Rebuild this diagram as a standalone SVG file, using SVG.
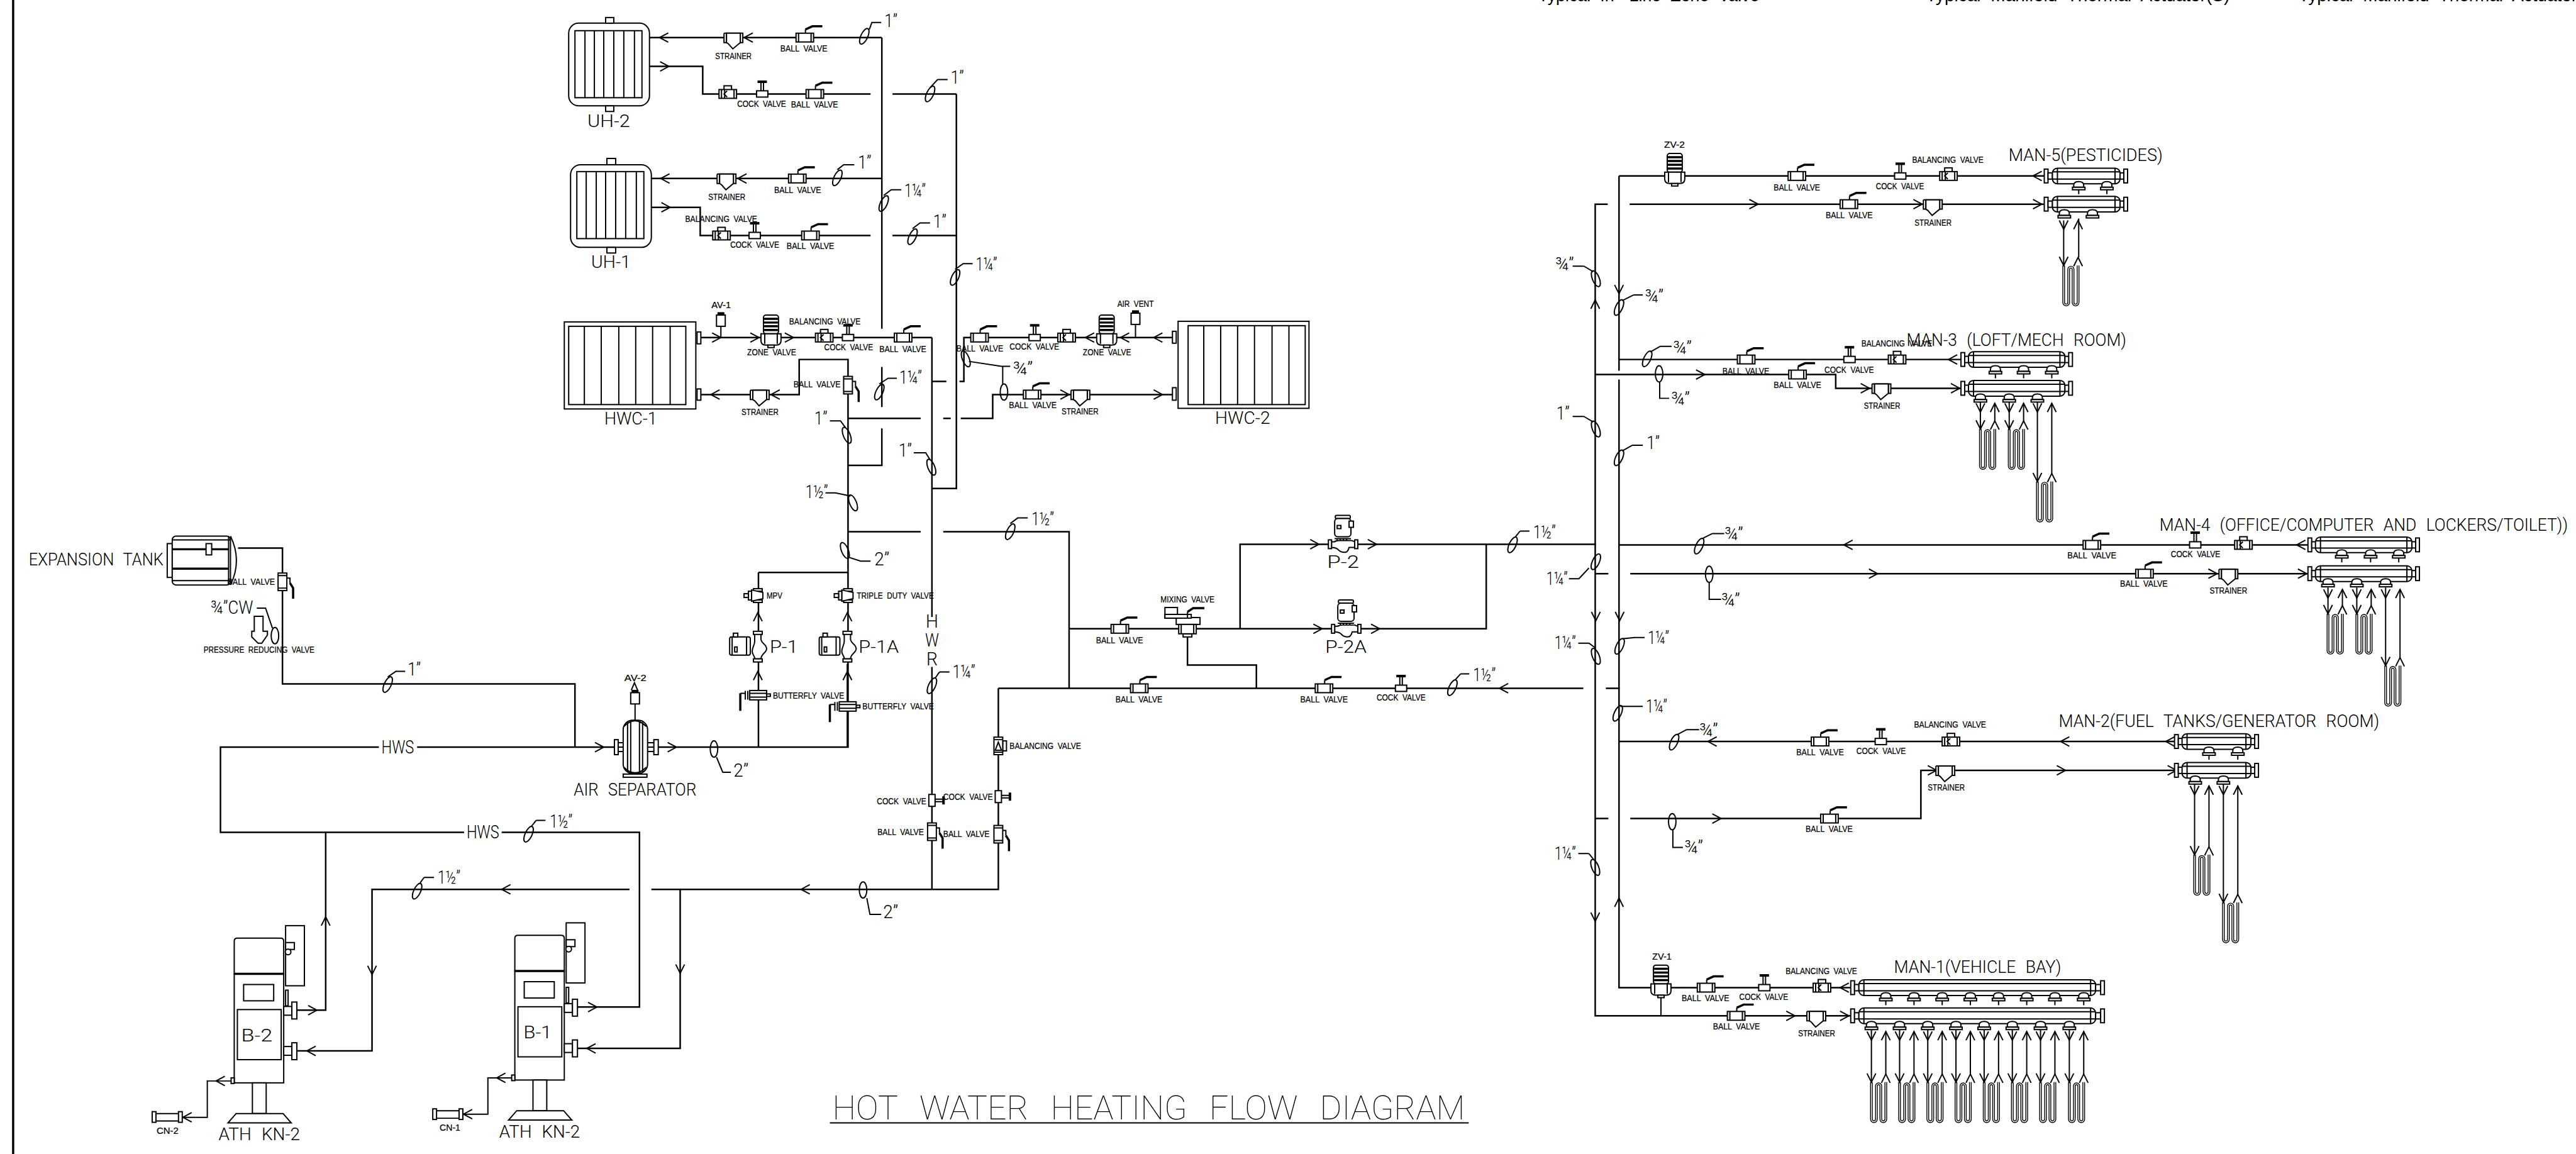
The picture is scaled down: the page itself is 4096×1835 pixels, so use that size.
<svg xmlns="http://www.w3.org/2000/svg" width="4096" height="1835" viewBox="0 0 4096 1835">
<style>
text{fill:#000;stroke:none;font-family:"Liberation Sans",Arial,sans-serif}
.a{font-size:15px;word-spacing:4px;stroke:#000;stroke-width:.25}
.b{font-size:27px;font-family:Roboto,"Liberation Sans",sans-serif;font-weight:300;word-spacing:9px}
.c{font-size:53px;font-family:Roboto,"Liberation Sans",sans-serif;font-weight:100;word-spacing:22px}
.d{font-size:28px;word-spacing:8px}
#pipe-sizes text{font-size:30px}
.p{fill:none;stroke:#000;stroke-width:2.5}
.l{fill:none;stroke:#000;stroke-width:2}
.s{fill:#fff;stroke:#000;stroke-width:2}
.n{fill:none;stroke:#000;stroke-width:2}
.h{fill:none;stroke:#000;stroke-width:3.5}
.k{fill:#000;stroke:#000;stroke-width:1}
.w{fill:none;stroke:#fff;stroke-width:1.4}
.q{fill:none;stroke:#000;stroke-width:4.2}
</style>
<defs>
<path id="arR" class="n" d="M-14-7.5L0 0L-14 7.5"/>
<path id="arL" class="n" d="M14-7.5L0 0L14 7.5"/>
<path id="arU" class="n" d="M-7 14L0 0L7 14"/>
<path id="arD" class="n" d="M-7-14L0 0L7-14"/>
<ellipse id="e0" class="n" rx="6" ry="13"/>
<ellipse id="e1" class="n" rx="5.5" ry="13.5" transform="rotate(25)"/>
<ellipse id="e2" class="n" rx="5.5" ry="13.5" transform="rotate(-22)"/>
<g id="bv"><rect class="s" x="-14" y="-7" width="28" height="14"/><path class="n" d="M-10-7V7M10-7V7M1-7V-13"/><path class="h" d="M1-13L12-18H28"/></g>
<g id="cv"><rect class="s" x="-9" y="-5" width="18" height="10"/><path class="n" d="M-2-5V-18M2-5V-18"/><rect class="k" x="-7" y="-21" width="14" height="3"/></g>
<g id="sb"><rect class="s" x="-6" y="-13" width="12" height="7"/><rect class="s" x="-14" y="-7" width="28" height="14"/><path class="n" d="M-10-7V7M-5-7V7M-1-5L-6 0L-1 5M10-7V7"/></g>
<g id="st"><path class="s" d="M-15-7H15V8H11V-7M-15-7V8H-11V-7"/><path class="s" d="M-11-7V8L-8 10L-1 18L11 8V-7Z"/></g>
<g id="zv"><rect class="s" x="-12" y="-36" width="24" height="30" rx="4"/><path class="h" d="M-11-30H11M-11-24H11M-11-18H11M-11-12H11"/><path class="s" d="M-16-6H16V5Q16 12 8 12H-8Q-16 12-16 5Z"/><path class="n" d="M-10-6V10M10-6V10"/><rect class="s" x="-5" y="12" width="10" height="4"/></g>
<g id="av"><rect class="s" x="-7" y="-18" width="14" height="18"/><rect class="k" x="-5" y="-22" width="10" height="4"/></g>
<g id="vb"><rect class="s" x="-7" y="-14" width="14" height="28"/><path class="n" d="M-7-10H7M-7 10H7M7-6H12V2"/><path class="h" d="M12 2L17 10V27"/></g>
<g id="vc"><rect class="s" x="-5" y="-9.5" width="10" height="19"/><path class="n" d="M5-2H17M5 2H17"/><rect class="k" x="17" y="-6" width="3" height="12"/></g>
<g id="vs"><rect class="s" x="7" y="-8" width="6" height="16"/><rect class="s" x="-7" y="-14" width="14" height="28"/><path class="n" d="M-7-10H7M-7 10H7M-5 7L0-6L5 7Z"/></g>
<g id="mp"><rect class="s" x="-7" y="-11" width="14" height="4"/><rect class="s" x="-7" y="7" width="14" height="4"/><path class="s" d="M-10-9L8-5V5L-10 9Z"/><rect class="s" x="-15" y="-7" width="5" height="14"/><rect class="s" x="-22" y="-3" width="7" height="6"/></g>
<g id="bf"><rect class="s" x="14" y="-2" width="6" height="4"/><rect class="s" x="-13" y="-7.5" width="27" height="15"/><path class="n" d="M-13-3H14M-13 3H14M-16-7V7M-20-7V7M-20-3H-28"/><path class="h" d="M-28-3V25"/></g>
<g id="pv"><rect class="s" x="-45" y="-15" width="33" height="29" rx="3"/><path class="n" d="M-41-15V14M-18-15V14"/><rect class="s" x="-39" y="-21" width="7" height="6"/><rect class="s" x="-37" y="1" width="4" height="8"/><path class="s" d="M-5-20V-8C-5-2-9 2-9 8C-9 14-5 14-5 20H5C5 12 14 10 14 4C14-4 5-4 5-12V-20Z"/><rect class="s" x="-7" y="-24" width="14" height="5"/><rect class="s" x="-7" y="20" width="14" height="5"/></g>
<g id="pu"><rect class="s" x="-12" y="-46" width="24" height="5" rx="2"/><rect class="s" x="-13" y="-41" width="26" height="29" rx="5"/><rect class="s" x="10" y="-37" width="7" height="10"/><rect class="s" x="-9" y="-30" width="6" height="5"/><path class="n" d="M-13-9H13M-13-5H13M-9-9V-5M-4-9V-5M1-9V-5M6-9V-5"/><path class="s" d="M-18-4H-13Q-10-6-6-6H14L19-4V5H10Q8 13 3 13Q-4 13-8 8Q-12 5-18 5Z"/><rect class="s" x="-23" y="-7" width="5" height="14"/><rect class="s" x="19" y="-7" width="5" height="14"/></g>
<g id="nz"><path class="s" d="M-8 5V2Q-8-4 0-4Q8-4 8 2V5Z"/><rect class="s" x="-10" y="5" width="20" height="4"/></g>
<g id="nu"><use href="#nz"/><path class="n" d="M0 9V16"/></g>
<g id="pt"><use href="#arD" x="0" y="17"/><use href="#arU" x="23" y="3"/></g>
<g id="lp"><path class="q" d="M0 0V59a4 4 0 0 0 8 0V6a3.500 3.500 0 0 1 7 0V59a4 4 0 0 0 8 0V0"/><path class="w" d="M0 0V59a4 4 0 0 0 8 0V6a3.500 3.500 0 0 1 7 0V59a4 4 0 0 0 8 0V0"/><use href="#arD"/><use href="#arU" x="23" y="-13"/></g>
<g id="fl"><rect class="s" x="0" y="-11" width="6" height="22"/><rect class="s" x="6" y="-5" width="7" height="10"/></g>
<g id="m5"><use href="#fl"/><rect class="s" x="13" y="-12.500" width="108" height="25" rx="8"/><path class="n" d="M21-12V12M113-12V12M13-6.500H121M13 5H121"/><rect class="s" x="121" y="-5" width="7" height="10"/><rect class="s" x="127" y="-11" width="6" height="22"/></g>
<g id="m2"><use href="#fl"/><rect class="s" x="12" y="-12.500" width="110" height="25" rx="8"/><path class="n" d="M20-12V12M114-12V12M12-6.500H122M12 5H122"/><rect class="s" x="122" y="-5" width="7" height="10"/><rect class="s" x="128" y="-11" width="6" height="22"/></g>
<g id="m3"><use href="#fl"/><rect class="s" x="12" y="-12.500" width="154" height="25" rx="8"/><path class="n" d="M20-12V12M158-12V12M12-6.500H166M12 5H166"/><rect class="s" x="166" y="-5" width="7" height="10"/><rect class="s" x="172" y="-11" width="6" height="22"/></g>
<g id="m1"><use href="#fl"/><rect class="s" x="13" y="-12.500" width="378" height="25" rx="8"/><path class="n" d="M21-12V12M383-12V12M13-6.500H391M13 5H391"/><rect class="s" x="391" y="-5" width="8" height="10"/><rect class="s" x="399" y="-11" width="6" height="22"/></g>
<g id="boiler"><path class="s" d="M374 1555V1503Q374 1498 379 1498H448Q453 1498 453 1503V1555Z"/><rect class="s" x="374" y="1555" width="79" height="174"/><path class="h" d="M374 1555H453"/><rect class="s" x="456" y="1478" width="30" height="96"/><rect class="s" x="456" y="1505" width="14" height="11"/><circle class="s" cx="460" cy="1520" r="4.500"/><rect class="s" x="389" y="1572" width="48" height="26"/><rect class="s" x="379" y="1612" width="70" height="80"/><rect class="s" x="456" y="1581" width="4" height="25"/><rect class="s" x="453" y="1607" width="13" height="14"/><rect class="s" x="466" y="1600" width="8" height="27"/><rect class="s" x="453" y="1671" width="13" height="14"/><rect class="s" x="466" y="1665" width="8" height="27"/><rect class="s" x="403" y="1729" width="22" height="49"/><path class="s" d="M377 1778H452L465 1793H364Z"/><rect class="s" x="369" y="1721" width="5" height="9"/><rect class="s" x="243" y="1775" width="6" height="17"/><rect class="s" x="285" y="1775" width="6" height="17"/><path class="n" d="M249 1778H285M249 1790H285"/></g>
</defs>
<rect width="4096" height="1835" fill="#fff"/>
<g transform="scale(0.99587)">
<path id="border" class="h" d="M21 0V1843"/>
<g id="notes"><text class="d" x="2456" y="2" textLength="353" lengthAdjust="spacingAndGlyphs">Typical In- Line Zone Valve</text><text class="d" x="3075" y="2" textLength="485" lengthAdjust="spacingAndGlyphs">Typical Manifold Thermal Actuator(S)</text><text class="d" x="3670" y="2" textLength="445" lengthAdjust="spacingAndGlyphs">Typical Manifold Thermal Actuator</text></g>

<g id="connectors">
<path class="p" d="M1037 60H1408M1037 106H1122V150H1390M1425 150H1527M1040 285H1408M1040 331H1118V376H1390M1425 376H1527M1408 60V525M1408 586V650M1408 684V743H1354M1527 150V780H1488M1488 539V985M1488 1065V1420M1119 539H1488M1119 630H1276V574H1354V1193H1051M981 1193H666M605 1193H352V1329H741M801 1329H1021V1608H922M1354 668H1470M1506 668H1518M1534 668H1585V630H1872M1488 609H1511M1532 609H1539V539H1872M1354 849H1470M1506 849H1707V1099M1211 914H1354M1211 914V1193M520 1329V1613H474M1594 1099V1420H1040M1005 1420H594V1678H474M1086 1420V1674H922M1594 1099H2528M2564 1099H2586M1707 1004H2373V869M1980 1004V869H2548M2006 1099V1062H1896V1015M380 875H451V1092H918V1193M1353 1060V1193"/>
<path class="l" d="M1014 1124V1150M1151 521V539M1813 518V539M2652 1592V1622M369 1726H331V1784H292M817 1721H779V1779H740"/>
<path class="p" d="M2585 281H3264M2585 281V592M2585 606V1577H2955M2567 326H2547V1622H2955M2602 326H3264M2585 574H3131M2547 598H2931V620H3131M2586 870H3685M2548 916H2568M2603 916H3685M2586 1184H3472M2548 1307H2568M2603 1307H3067V1230H3472"/>
<path class="l" d="M3295 352V424M3319 349V411M3162 641V685M3185 644V672M3208 641V685M3231 644V672M3253 641V769M3276 644V756M3717 938V980M3740 941V967M3763 938V980M3786 941V967M3809 938V1063M3832 941V1050M3504 1252V1365M3527 1255V1352M3550 1252V1441M3573 1255V1428"/>
<path class="l" d="M2988 1644V1728M3011 1647V1715M3033 1644V1728M3056 1647V1715M3078 1644V1728M3101 1647V1715M3123 1644V1728M3146 1647V1715M3168 1644V1728M3191 1647V1715M3213 1644V1728M3236 1647V1715M3258 1644V1728M3281 1647V1715M3304 1644V1728M3327 1647V1715"/>
<path class="l" d="M1388 47L1392 36H1407M1497 127H1513M1485 140L1497 127M1337 271L1347 263H1364M1411 312L1423 303H1439M1457 365L1469 356H1485M1525 430L1538 421H1553M1404 613L1418 604H1432M1325 672H1342L1350 683M1459 723H1478L1485 734M1318 787H1334L1358 792M1613 836L1625 827H1641M1356 890L1374 896H1390M1547 577L1599 585H1613M1601 614V585M410 971H424L435 1003M619 1081L632 1072H647M1144 1209L1154 1233H1167M856 1310H871M848 1320L856 1310M677 1401H693M670 1411L677 1401M1500 1073H1516M1493 1083L1500 1073M1384 1434L1389 1460H1407M2332 1076H2346M2323 1086L2332 1076M2427 848H2442M2419 858L2427 848M2529 425H2511M2529 425L2544 434M2608 471H2623M2590 480L2608 471M2651 553H2669M2635 562L2651 553M2650 610V636H2665M2529 665H2511M2529 665L2544 674M2606 711H2623M2590 720L2606 711M2734 852H2753M2718 860L2734 852M2729 930V957H2748M2537 907L2521 924H2505M2548 1035L2537 1027H2520M2610 1018H2626M2590 1020L2610 1018M2606 1128H2623M2587 1128L2606 1128M2693 1165H2713M2678 1173L2693 1165M2671 1325V1353H2687M2537 1363H2520M2537 1363L2545 1373"/>
<g id="ticks">
<use href="#e1" x="1380" y="58"/><use href="#e1" x="1485" y="150"/><use href="#e1" x="1337" y="284"/><use href="#e1" x="1411" y="325"/><use href="#e1" x="1457" y="378"/><use href="#e1" x="1525" y="443"/><use href="#e1" x="1404" y="626"/><use href="#e2" x="1352" y="695"/><use href="#e2" x="1487" y="746"/><use href="#e2" x="1362" y="803"/><use href="#e1" x="1613" y="849"/><use href="#e2" x="1349" y="879"/><use href="#e2" x="1542" y="573"/><use href="#e0" x="1603" y="626"/><use href="#e0" x="439" y="1015"/><use href="#e1" x="619" y="1093"/><use href="#e0" x="1140" y="1196"/><use href="#e1" x="844" y="1332"/><use href="#e1" x="666" y="1423"/><use href="#e1" x="1488" y="1095"/><use href="#e0" x="1378" y="1421"/><use href="#e1" x="2319" y="1098"/><use href="#e1" x="2415" y="870"/><use href="#e2" x="2548" y="445"/><use href="#e1" x="2585" y="491"/><use href="#e1" x="2630" y="573"/><use href="#e0" x="2649" y="597"/><use href="#e2" x="2548" y="685"/><use href="#e1" x="2585" y="731"/><use href="#e1" x="2713" y="872"/><use href="#e0" x="2729" y="917"/><use href="#e1" x="2548" y="897"/><use href="#e2" x="2548" y="1048"/><use href="#e1" x="2586" y="1032"/><use href="#e1" x="2583" y="1139"/><use href="#e1" x="2673" y="1185"/><use href="#e0" x="2670" y="1312"/><use href="#e2" x="2547" y="1385"/>
</g>
<g id="arrows">
<use href="#arL" x="1053" y="60"/><use href="#arL" x="1188" y="60"/><use href="#arR" x="1068" y="106"/><use href="#arL" x="1055" y="285"/><use href="#arL" x="1178" y="285"/><use href="#arR" x="1070" y="331"/><use href="#arR" x="1151" y="539"/><use href="#arR" x="1212" y="539"/><use href="#arR" x="1267" y="539"/><use href="#arL" x="1135" y="630"/><use href="#arL" x="1231" y="630"/><use href="#arL" x="1733" y="539"/><use href="#arL" x="1789" y="539"/><use href="#arL" x="1842" y="539"/><use href="#arR" x="1707" y="630"/><use href="#arR" x="1856" y="630"/><use href="#arR" x="964" y="1193"/><use href="#arR" x="1080" y="1193"/>
<use href="#arU" x="1210" y="978"/><use href="#arU" x="1210" y="1072"/><use href="#arU" x="1353" y="978"/><use href="#arU" x="1353" y="1072"/>
<use href="#arL" x="1279" y="1420"/><use href="#arL" x="801" y="1420"/><use href="#arD" x="594" y="1556"/><use href="#arD" x="1086" y="1554"/><use href="#arU" x="520" y="1464"/><use href="#arR" x="506" y="1613"/><use href="#arL" x="490" y="1678"/><use href="#arR" x="953" y="1608"/><use href="#arL" x="937" y="1674"/><use href="#arL" x="345" y="1726"/><use href="#arL" x="292" y="1784"/><use href="#arL" x="793" y="1721"/><use href="#arL" x="740" y="1779"/>
<use href="#arR" x="2106" y="869"/><use href="#arR" x="2198" y="869"/><use href="#arR" x="2111" y="1004"/><use href="#arR" x="2203" y="1004"/><use href="#arL" x="2394" y="1099"/>
<use href="#arL" x="3246" y="281"/><use href="#arR" x="2807" y="326"/><use href="#arR" x="3069" y="326"/><use href="#arR" x="3260" y="326"/><use href="#arD" x="2585" y="469"/><use href="#arU" x="2547" y="479"/><use href="#arL" x="3111" y="574"/><use href="#arR" x="2722" y="598"/><use href="#arR" x="2985" y="620"/><use href="#arR" x="3129" y="620"/><use href="#arL" x="2944" y="870"/><use href="#arL" x="3667" y="870"/><use href="#arR" x="2998" y="916"/><use href="#arR" x="3540" y="916"/><use href="#arR" x="3683" y="916"/><use href="#arD" x="2548" y="991"/><use href="#arD" x="2586" y="991"/><use href="#arL" x="2727" y="1184"/><use href="#arL" x="3290" y="1184"/><use href="#arL" x="3458" y="1184"/><use href="#arR" x="3092" y="1230"/><use href="#arR" x="3298" y="1230"/><use href="#arR" x="3475" y="1230"/><use href="#arR" x="2748" y="1307"/><use href="#arD" x="2547" y="1471"/><use href="#arU" x="2585" y="1434"/><use href="#arL" x="2938" y="1577"/><use href="#arR" x="2866" y="1622"/><use href="#arR" x="2952" y="1622"/>
</g>
</g>

<g id="pipe-sizes">
<text class="b" x="1412" y="43" textLength="21" lengthAdjust="spacingAndGlyphs">1”</text>
<text class="b" x="1518" y="134" textLength="21" lengthAdjust="spacingAndGlyphs">1”</text>
<text class="b" x="1370" y="269" textLength="21" lengthAdjust="spacingAndGlyphs">1”</text>
<text class="b" x="1444" y="314" textLength="34" lengthAdjust="spacingAndGlyphs">1¼”</text>
<text class="b" x="1490" y="363" textLength="21" lengthAdjust="spacingAndGlyphs">1”</text>
<text class="b" x="1558" y="432" textLength="34" lengthAdjust="spacingAndGlyphs">1¼”</text>
<text class="b" x="1436" y="613" textLength="36" lengthAdjust="spacingAndGlyphs">1¼”</text>
<text class="b" x="1300" y="678" textLength="21" lengthAdjust="spacingAndGlyphs">1”</text>
<text class="b" x="1435" y="729" textLength="21" lengthAdjust="spacingAndGlyphs">1”</text>
<text class="b" x="1286" y="795" textLength="36" lengthAdjust="spacingAndGlyphs">1½”</text>
<text class="b" x="1647" y="838" textLength="36" lengthAdjust="spacingAndGlyphs">1½”</text>
<text class="b" x="1396" y="903" textLength="24" lengthAdjust="spacingAndGlyphs">2”</text>
<text class="b" x="1617" y="598" textLength="32" lengthAdjust="spacingAndGlyphs">¾”</text>
<text class="b" x="336" y="980" textLength="68" lengthAdjust="spacingAndGlyphs">¾”CW</text>
<text class="b" x="651" y="1078" textLength="21" lengthAdjust="spacingAndGlyphs">1”</text>
<text class="b" x="1171" y="1240" textLength="24" lengthAdjust="spacingAndGlyphs">2”</text>
<text class="b" x="878" y="1321" textLength="36" lengthAdjust="spacingAndGlyphs">1½”</text>
<text class="b" x="699" y="1411" textLength="36" lengthAdjust="spacingAndGlyphs">1½”</text>
<text class="b" x="1521" y="1082" textLength="36" lengthAdjust="spacingAndGlyphs">1¼”</text>
<text class="b" x="1410" y="1466" textLength="24" lengthAdjust="spacingAndGlyphs">2”</text>
<text class="b" x="2352" y="1087" textLength="36" lengthAdjust="spacingAndGlyphs">1½”</text>
<text class="b" x="2448" y="860" textLength="36" lengthAdjust="spacingAndGlyphs">1½”</text>
<text class="b" x="2483" y="432" textLength="30" lengthAdjust="spacingAndGlyphs">¾”</text>
<text class="b" x="2626" y="483" textLength="30" lengthAdjust="spacingAndGlyphs">¾”</text>
<text class="b" x="2671" y="565" textLength="30" lengthAdjust="spacingAndGlyphs">¾”</text>
<text class="b" x="2668" y="647" textLength="30" lengthAdjust="spacingAndGlyphs">¾”</text>
<text class="b" x="2485" y="670" textLength="21" lengthAdjust="spacingAndGlyphs">1”</text>
<text class="b" x="2629" y="717" textLength="21" lengthAdjust="spacingAndGlyphs">1”</text>
<text class="b" x="2753" y="863" textLength="30" lengthAdjust="spacingAndGlyphs">¾”</text>
<text class="b" x="2748" y="968" textLength="30" lengthAdjust="spacingAndGlyphs">¾”</text>
<text class="b" x="2469" y="934" textLength="34" lengthAdjust="spacingAndGlyphs">1¼”</text>
<text class="b" x="2482" y="1036" textLength="34" lengthAdjust="spacingAndGlyphs">1¼”</text>
<text class="b" x="2631" y="1028" textLength="34" lengthAdjust="spacingAndGlyphs">1¼”</text>
<text class="b" x="2628" y="1138" textLength="34" lengthAdjust="spacingAndGlyphs">1¼”</text>
<text class="b" x="2713" y="1176" textLength="30" lengthAdjust="spacingAndGlyphs">¾”</text>
<text class="b" x="2689" y="1363" textLength="30" lengthAdjust="spacingAndGlyphs">¾”</text>
<text class="b" x="2482" y="1373" textLength="34" lengthAdjust="spacingAndGlyphs">1¼”</text>
<text class="b" x="609" y="1203" textLength="52" lengthAdjust="spacingAndGlyphs">HWS</text>
<text class="b" x="745" y="1339" textLength="52" lengthAdjust="spacingAndGlyphs">HWS</text>
<text class="b" x="1478" y="1002" textLength="20" lengthAdjust="spacingAndGlyphs">H</text>
<text class="b" x="1477" y="1032" textLength="22" lengthAdjust="spacingAndGlyphs">W</text>
<text class="b" x="1479" y="1062" textLength="18" lengthAdjust="spacingAndGlyphs">R</text>
</g>

<g id="UH-2"><rect class="s" x="908" y="37" width="129" height="132" rx="16"/><rect class="s" x="967" y="28" width="13" height="9"/><rect class="s" x="967" y="169" width="13" height="9"/><rect class="s" x="918" y="49" width="107" height="107"/><path class="n" d="M934 49V156M949 49V156M964 49V156M980 49V156M996 49V156M1013 49V156"/><text class="b" x="938" y="203" textLength="68" lengthAdjust="spacingAndGlyphs">UH-2</text></g>
<g id="UH-1"><rect class="s" x="911" y="263" width="129" height="132" rx="16"/><rect class="s" x="969" y="253" width="14" height="10"/><rect class="s" x="969" y="395" width="14" height="9"/><rect class="s" x="921" y="274" width="107" height="107"/><path class="n" d="M936 274V381M952 274V381M967 274V381M983 274V381M999 274V381M1016 274V381"/><text class="b" x="944" y="428" textLength="63" lengthAdjust="spacingAndGlyphs">UH-1</text></g>
<g id="HWC-1"><rect class="s" x="901" y="514" width="210" height="139"/><rect class="s" x="908" y="521" width="187" height="125"/><path class="n" d="M933 521V646M960 521V646M988 521V646M1015 521V646M1042 521V646M1070 521V646"/><rect class="s" x="1113" y="530" width="6" height="19"/><rect class="s" x="1113" y="621" width="6" height="18"/><text class="b" x="965" y="678" textLength="84" lengthAdjust="spacingAndGlyphs">HWC-1</text></g>
<g id="HWC-2"><rect class="s" x="1881" y="513" width="209" height="139"/><rect class="s" x="1897" y="520" width="187" height="126"/><path class="n" d="M1922 520V646M1949 520V646M1976 520V646M2003 520V646M2031 520V646M2058 520V646"/><rect class="s" x="1872" y="529" width="6" height="19"/><rect class="s" x="1872" y="619" width="6" height="20"/><text class="b" x="1940" y="677" textLength="88" lengthAdjust="spacingAndGlyphs">HWC-2</text></g>

<g id="valves-uh2"><use href="#st" x="1171" y="60"/><use href="#bv" x="1285" y="60"/><use href="#sb" x="1162" y="150"/><use href="#cv" x="1217" y="150"/><use href="#bv" x="1301" y="150"/>
<text class="a" x="1246" y="82" textLength="75" lengthAdjust="spacingAndGlyphs">BALL VALVE</text><text class="a" x="1142" y="94" textLength="58" lengthAdjust="spacingAndGlyphs">STRAINER</text><text class="a" x="1177" y="171" textLength="78" lengthAdjust="spacingAndGlyphs">COCK VALVE</text><text class="a" x="1263" y="172" textLength="75" lengthAdjust="spacingAndGlyphs">BALL VALVE</text></g>
<g id="valves-uh1"><use href="#st" x="1160" y="285"/><use href="#bv" x="1273" y="285"/><use href="#sb" x="1152" y="376"/><use href="#cv" x="1205" y="376"/><use href="#bv" x="1294" y="376"/>
<text class="a" x="1236" y="308" textLength="75" lengthAdjust="spacingAndGlyphs">BALL VALVE</text><text class="a" x="1131" y="319" textLength="59" lengthAdjust="spacingAndGlyphs">STRAINER</text><text class="a" x="1094" y="354" textLength="115" lengthAdjust="spacingAndGlyphs">BALANCING VALVE</text><text class="a" x="1166" y="396" textLength="78" lengthAdjust="spacingAndGlyphs">COCK VALVE</text><text class="a" x="1256" y="398" textLength="76" lengthAdjust="spacingAndGlyphs">BALL VALVE</text></g>
<g id="valves-hwc1"><use href="#av" x="1151" y="521"/><use href="#zv" x="1231" y="539"/><use href="#sb" x="1316" y="539"/><use href="#cv" x="1354" y="539"/><use href="#bv" x="1442" y="539"/><use href="#st" x="1213" y="630"/><use href="#vb" x="1354" y="615"/>
<text class="a" x="1136" y="492" textLength="31" lengthAdjust="spacingAndGlyphs">AV-1</text><text class="a" x="1193" y="567" textLength="78" lengthAdjust="spacingAndGlyphs">ZONE VALVE</text><text class="a" x="1260" y="518" textLength="114" lengthAdjust="spacingAndGlyphs">BALANCING VALVE</text><text class="a" x="1316" y="559" textLength="78" lengthAdjust="spacingAndGlyphs">COCK VALVE</text><text class="a" x="1404" y="562" textLength="75" lengthAdjust="spacingAndGlyphs">BALL VALVE</text><text class="a" x="1184" y="663" textLength="59" lengthAdjust="spacingAndGlyphs">STRAINER</text><text class="a" x="1267" y="619" textLength="75" lengthAdjust="spacingAndGlyphs">BALL VALVE</text></g>
<g id="valves-hwc2"><use href="#av" x="1813" y="518"/><use href="#zv" x="1767" y="539"/><use href="#sb" x="1703" y="539"/><use href="#cv" x="1652" y="539"/><use href="#bv" x="1564" y="539"/><use href="#bv" x="1648" y="630"/><use href="#st" x="1725" y="630"/>
<text class="a" x="1784" y="490" textLength="58" lengthAdjust="spacingAndGlyphs">AIR VENT</text><text class="a" x="1527" y="561" textLength="75" lengthAdjust="spacingAndGlyphs">BALL VALVE</text><text class="a" x="1612" y="558" textLength="79" lengthAdjust="spacingAndGlyphs">COCK VALVE</text><text class="a" x="1729" y="567" textLength="77" lengthAdjust="spacingAndGlyphs">ZONE VALVE</text><text class="a" x="1611" y="652" textLength="76" lengthAdjust="spacingAndGlyphs">BALL VALVE</text><text class="a" x="1695" y="662" textLength="59" lengthAdjust="spacingAndGlyphs">STRAINER</text></g>

<g id="expansion-tank"><rect class="s" x="267" y="868" width="8" height="54"/><rect class="s" x="275" y="856" width="93" height="78" rx="6"/><path class="n" d="M275 862H368M275 927H368M368 856Q387 895 368 934M365 856V934"/><path class="h" d="M275 877H365M275 908H365"/><rect class="s" x="329" y="868" width="9" height="18"/><text class="b" x="46" y="903" textLength="215" lengthAdjust="spacingAndGlyphs">EXPANSION TANK</text></g>
<g id="tank-valves"><use href="#vb" x="451" y="929"/><path class="s" d="M406 984H420V1008H427V1014L418 1027H412L402 1017V1008H406Z"/><text class="a" x="363" y="934" textLength="76" lengthAdjust="spacingAndGlyphs">BALL VALVE</text><text class="a" x="325" y="1042" textLength="177" lengthAdjust="spacingAndGlyphs">PRESSURE REDUCING VALVE</text></g>
<g id="air-separator"><rect class="s" x="995" y="1150" width="39" height="85" rx="15"/><path class="n" d="M1002 1153V1232M1007 1151V1234M1021 1151V1234M1026 1153V1232M996 1160Q1014 1142 1032 1160M996 1225Q1014 1243 1032 1225"/><rect class="s" x="981" y="1181" width="6" height="24"/><path class="n" d="M987 1186H995M987 1193H995M987 1200H995M1034 1186H1044M1034 1193H1044M1034 1200H1044"/><rect class="s" x="1044" y="1181" width="7" height="24"/><rect class="s" x="995" y="1236" width="38" height="5"/><use href="#av" x="1014" y="1124"/><path class="n" d="M1008 1102L1013 1090L1018 1102"/><text class="a" x="997" y="1087" textLength="35" lengthAdjust="spacingAndGlyphs">AV-2</text><text class="b" x="916" y="1270" textLength="196" lengthAdjust="spacingAndGlyphs">AIR SEPARATOR</text></g>
<g id="P-1"><use href="#mp" x="1210" y="951"/><use href="#pv" x="1210" y="1032"/><use href="#bf" x="1210" y="1110"/><text class="a" x="1224" y="956" textLength="25" lengthAdjust="spacingAndGlyphs">MPV</text><text class="b" x="1229" y="1042" textLength="45" lengthAdjust="spacingAndGlyphs">P-1</text><text class="a" x="1234" y="1116" textLength="114" lengthAdjust="spacingAndGlyphs">BUTTERFLY VALVE</text></g>
<g id="P-1A"><use href="#mp" x="1354" y="951"/><use href="#pv" x="1353" y="1032"/><use href="#bf" x="1353" y="1128"/><text class="a" x="1368" y="956" textLength="123" lengthAdjust="spacingAndGlyphs">TRIPLE DUTY VALVE</text><text class="b" x="1371" y="1042" textLength="64" lengthAdjust="spacingAndGlyphs">P-1A</text><text class="a" x="1377" y="1133" textLength="114" lengthAdjust="spacingAndGlyphs">BUTTERFLY VALVE</text></g>
<g id="hwr-valves"><use href="#vc" x="1488" y="1278"/><use href="#vc" x="1594" y="1272"/><use href="#vb" x="1488" y="1328"/><use href="#vb" x="1594" y="1332"/><use href="#vs" x="1594" y="1191"/>
<text class="a" x="1400" y="1284" textLength="79" lengthAdjust="spacingAndGlyphs">COCK VALVE</text><text class="a" x="1506" y="1277" textLength="79" lengthAdjust="spacingAndGlyphs">COCK VALVE</text><text class="a" x="1401" y="1334" textLength="74" lengthAdjust="spacingAndGlyphs">BALL VALVE</text><text class="a" x="1506" y="1337" textLength="74" lengthAdjust="spacingAndGlyphs">BALL VALVE</text><text class="a" x="1612" y="1196" textLength="114" lengthAdjust="spacingAndGlyphs">BALANCING VALVE</text></g>
<g id="mixing"><use href="#bv" x="1788" y="1004"/><rect class="s" x="1889" y="1012" width="14" height="5"/><rect class="s" x="1878" y="986" width="38" height="11"/><rect class="s" x="1860" y="970" width="20" height="17"/><rect class="s" x="1860" y="981" width="42" height="6"/><rect class="s" x="1882" y="997" width="28" height="15"/><path class="n" d="M1886 997V1012M1906 997V1012M1896 986V977"/><path class="h" d="M1896 977L1905 971H1923"/><text class="a" x="1750" y="1027" textLength="75" lengthAdjust="spacingAndGlyphs">BALL VALVE</text><text class="a" x="1853" y="962" textLength="86" lengthAdjust="spacingAndGlyphs">MIXING VALVE</text></g>
<g id="P-2"><use href="#pu" x="2144" y="869"/><text class="b" x="2119" y="907" textLength="51" lengthAdjust="spacingAndGlyphs">P-2</text></g>
<g id="P-2A"><use href="#pu" x="2149" y="1004"/><text class="b" x="2116" y="1042" textLength="66" lengthAdjust="spacingAndGlyphs">P-2A</text></g>
<g id="return-valves"><use href="#bv" x="1819" y="1099"/><use href="#bv" x="2114" y="1099"/><use href="#cv" x="2237" y="1099"/><text class="a" x="1781" y="1122" textLength="75" lengthAdjust="spacingAndGlyphs">BALL VALVE</text><text class="a" x="2076" y="1122" textLength="76" lengthAdjust="spacingAndGlyphs">BALL VALVE</text><text class="a" x="2198" y="1119" textLength="78" lengthAdjust="spacingAndGlyphs">COCK VALVE</text></g>

<g id="B-2"><use href="#boiler"/><text class="b" x="385" y="1663" textLength="50" lengthAdjust="spacingAndGlyphs">B-2</text><text class="b" x="349" y="1821" textLength="130" lengthAdjust="spacingAndGlyphs">ATH KN-2</text><text class="a" x="250" y="1810" textLength="35" lengthAdjust="spacingAndGlyphs">CN-2</text></g>
<g id="B-1"><use href="#boiler" transform="translate(448,-4.500)"/><text class="b" x="836" y="1658" textLength="45" lengthAdjust="spacingAndGlyphs">B-1</text><text class="b" x="797" y="1817" textLength="129" lengthAdjust="spacingAndGlyphs">ATH KN-2</text><text class="a" x="702" y="1805" textLength="33" lengthAdjust="spacingAndGlyphs">CN-1</text></g>

<g id="title"><text class="c" x="1329" y="1787" textLength="1010" lengthAdjust="spacingAndGlyphs">HOT WATER HEATING FLOW DIAGRAM</text><path class="n" d="M1325 1793H2345"/></g>

<g id="MAN-5"><use href="#zv" x="2674" y="281"/><use href="#bv" x="2869" y="281"/><use href="#cv" x="3034" y="281"/><use href="#sb" x="3111" y="281"/><use href="#bv" x="2952" y="326"/><use href="#st" x="3086" y="326"/><use href="#m5" x="3264" y="281"/><use href="#m5" x="3264" y="326"/><use href="#nu" x="3319" y="294"/><use href="#nu" x="3364" y="294"/><use href="#nz" x="3296" y="339"/><use href="#nz" x="3341" y="339"/><use href="#pt" x="3295" y="349"/><use href="#lp" x="3295" y="424"/>
<text class="a" x="2657" y="236" textLength="33" lengthAdjust="spacingAndGlyphs">ZV-2</text><text class="a" x="2832" y="304" textLength="74" lengthAdjust="spacingAndGlyphs">BALL VALVE</text><text class="a" x="2995" y="302" textLength="77" lengthAdjust="spacingAndGlyphs">COCK VALVE</text><text class="a" x="3053" y="260" textLength="114" lengthAdjust="spacingAndGlyphs">BALANCING VALVE</text><text class="a" x="2915" y="348" textLength="75" lengthAdjust="spacingAndGlyphs">BALL VALVE</text><text class="a" x="3057" y="360" textLength="59" lengthAdjust="spacingAndGlyphs">STRAINER</text><text class="b" x="3207" y="257" textLength="246" lengthAdjust="spacingAndGlyphs">MAN-5(PESTICIDES)</text></g>
<g id="MAN-3"><use href="#bv" x="2788" y="574"/><use href="#cv" x="2953" y="574"/><use href="#sb" x="3029" y="574"/><use href="#bv" x="2870" y="598"/><use href="#st" x="3004" y="620"/><use href="#m3" x="3131" y="574"/><use href="#m3" x="3131" y="620"/><use href="#nu" x="3186" y="588"/><use href="#nu" x="3231" y="588"/><use href="#nu" x="3276" y="588"/><use href="#nz" x="3162" y="633"/><use href="#nz" x="3208" y="633"/><use href="#nz" x="3253" y="633"/><use href="#pt" x="3162" y="641"/><use href="#pt" x="3208" y="641"/><use href="#pt" x="3253" y="641"/><use href="#lp" x="3162" y="685"/><use href="#lp" x="3208" y="685"/><use href="#lp" x="3253" y="769"/>
<text class="a" x="2750" y="597" textLength="75" lengthAdjust="spacingAndGlyphs">BALL VALVE</text><text class="a" x="2913" y="595" textLength="79" lengthAdjust="spacingAndGlyphs">COCK VALVE</text><text class="a" x="2972" y="553" textLength="113" lengthAdjust="spacingAndGlyphs">BALANCING VALVE</text><text class="a" x="2832" y="620" textLength="76" lengthAdjust="spacingAndGlyphs">BALL VALVE</text><text class="a" x="2976" y="653" textLength="58" lengthAdjust="spacingAndGlyphs">STRAINER</text><text class="b" x="3044" y="552" textLength="351" lengthAdjust="spacingAndGlyphs">MAN-3 (LOFT/MECH ROOM)</text></g>
<g id="MAN-4"><use href="#bv" x="3340" y="870"/><use href="#cv" x="3505" y="870"/><use href="#sb" x="3582" y="870"/><use href="#bv" x="3424" y="916"/><use href="#st" x="3558" y="916"/><use href="#m3" x="3685" y="870"/><use href="#m3" x="3685" y="916"/><use href="#nu" x="3739" y="882"/><use href="#nu" x="3785" y="882"/><use href="#nu" x="3830" y="882"/><use href="#nz" x="3717" y="928"/><use href="#nz" x="3763" y="928"/><use href="#nz" x="3809" y="928"/><use href="#pt" x="3717" y="938"/><use href="#pt" x="3763" y="938"/><use href="#pt" x="3809" y="938"/><use href="#lp" x="3717" y="980"/><use href="#lp" x="3763" y="980"/><use href="#lp" x="3809" y="1063"/>
<text class="a" x="3301" y="892" textLength="78" lengthAdjust="spacingAndGlyphs">BALL VALVE</text><text class="a" x="3466" y="890" textLength="79" lengthAdjust="spacingAndGlyphs">COCK VALVE</text><text class="a" x="3385" y="937" textLength="76" lengthAdjust="spacingAndGlyphs">BALL VALVE</text><text class="a" x="3528" y="948" textLength="60" lengthAdjust="spacingAndGlyphs">STRAINER</text><text class="b" x="3448" y="847" textLength="652" lengthAdjust="spacingAndGlyphs">MAN-4 (OFFICE/COMPUTER AND LOCKERS/TOILET))</text></g>
<g id="MAN-2"><use href="#bv" x="2906" y="1184"/><use href="#cv" x="3003" y="1184"/><use href="#sb" x="3115" y="1184"/><use href="#st" x="3106" y="1230"/><use href="#bv" x="2921" y="1307"/><use href="#m2" x="3472" y="1184"/><use href="#m2" x="3472" y="1230"/><use href="#nu" x="3527" y="1197"/><use href="#nu" x="3573" y="1197"/><use href="#nz" x="3505" y="1243"/><use href="#nz" x="3550" y="1243"/><use href="#pt" x="3504" y="1252"/><use href="#pt" x="3550" y="1252"/><use href="#lp" x="3504" y="1365"/><use href="#lp" x="3550" y="1441"/>
<text class="a" x="2868" y="1206" textLength="76" lengthAdjust="spacingAndGlyphs">BALL VALVE</text><text class="a" x="2964" y="1204" textLength="79" lengthAdjust="spacingAndGlyphs">COCK VALVE</text><text class="a" x="3056" y="1162" textLength="115" lengthAdjust="spacingAndGlyphs">BALANCING VALVE</text><text class="a" x="3078" y="1262" textLength="59" lengthAdjust="spacingAndGlyphs">STRAINER</text><text class="a" x="2883" y="1328" textLength="75" lengthAdjust="spacingAndGlyphs">BALL VALVE</text><text class="b" x="3287" y="1161" textLength="512" lengthAdjust="spacingAndGlyphs">MAN-2(FUEL TANKS/GENERATOR ROOM)</text></g>
<g id="MAN-1"><use href="#zv" x="2652" y="1577"/><use href="#bv" x="2724" y="1577"/><use href="#cv" x="2817" y="1577"/><use href="#sb" x="2909" y="1577"/><use href="#bv" x="2772" y="1622"/><use href="#st" x="2900" y="1622"/><use href="#m1" x="2955" y="1577"/><use href="#m1" x="2955" y="1622"/>
<use href="#nu" x="3011" y="1589"/><use href="#nu" x="3056" y="1589"/><use href="#nu" x="3101" y="1589"/><use href="#nu" x="3146" y="1589"/><use href="#nu" x="3191" y="1589"/><use href="#nu" x="3236" y="1589"/><use href="#nu" x="3281" y="1589"/><use href="#nu" x="3327" y="1589"/>
<use href="#nz" x="2988" y="1635"/><use href="#nz" x="3033" y="1635"/><use href="#nz" x="3078" y="1635"/><use href="#nz" x="3123" y="1635"/><use href="#nz" x="3168" y="1635"/><use href="#nz" x="3213" y="1635"/><use href="#nz" x="3258" y="1635"/><use href="#nz" x="3304" y="1635"/>
<use href="#pt" x="2988" y="1644"/><use href="#pt" x="3033" y="1644"/><use href="#pt" x="3078" y="1644"/><use href="#pt" x="3123" y="1644"/><use href="#pt" x="3168" y="1644"/><use href="#pt" x="3213" y="1644"/><use href="#pt" x="3258" y="1644"/><use href="#pt" x="3304" y="1644"/>
<use href="#lp" x="2988" y="1728"/><use href="#lp" x="3033" y="1728"/><use href="#lp" x="3078" y="1728"/><use href="#lp" x="3123" y="1728"/><use href="#lp" x="3168" y="1728"/><use href="#lp" x="3213" y="1728"/><use href="#lp" x="3258" y="1728"/><use href="#lp" x="3304" y="1728"/>
<text class="a" x="2638" y="1532" textLength="31" lengthAdjust="spacingAndGlyphs">ZV-1</text><text class="a" x="2685" y="1599" textLength="76" lengthAdjust="spacingAndGlyphs">BALL VALVE</text><text class="a" x="2777" y="1597" textLength="78" lengthAdjust="spacingAndGlyphs">COCK VALVE</text><text class="a" x="2851" y="1555" textLength="114" lengthAdjust="spacingAndGlyphs">BALANCING VALVE</text><text class="a" x="2735" y="1644" textLength="75" lengthAdjust="spacingAndGlyphs">BALL VALVE</text><text class="a" x="2871" y="1655" textLength="59" lengthAdjust="spacingAndGlyphs">STRAINER</text><text class="b" x="3024" y="1553" textLength="267" lengthAdjust="spacingAndGlyphs">MAN-1(VEHICLE BAY)</text></g>
</g>
</svg>
